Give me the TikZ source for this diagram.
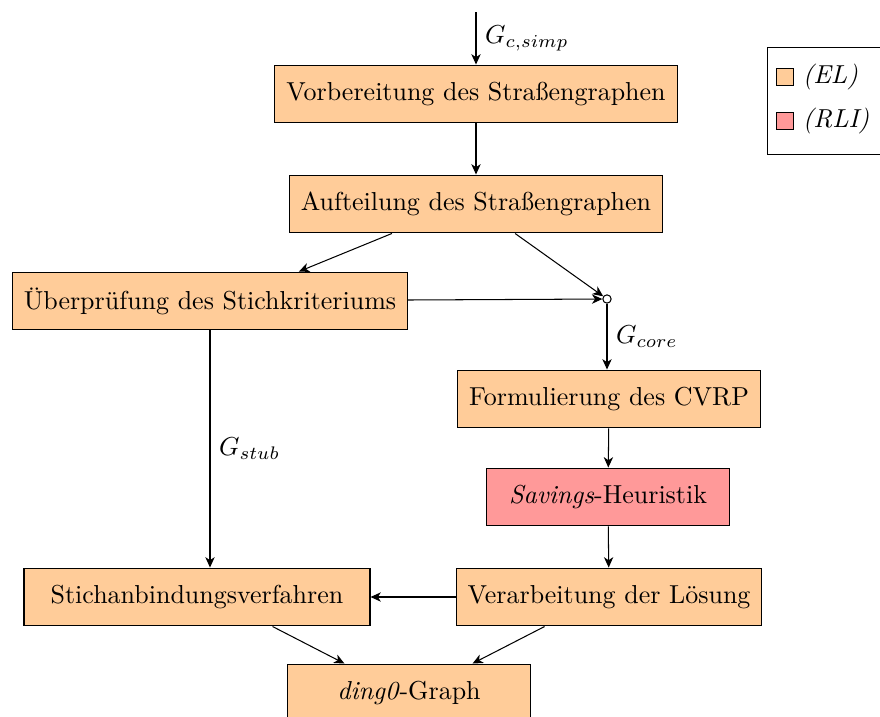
\documentclass[tikz,border=0pt]{standalone}
\usepackage{amsmath}
\usepackage{tikz}
\usetikzlibrary{arrows.meta,calc}

\begin{document}
\begin{tikzpicture}[x=0.385pt,y=-0.385pt, >={Stealth[length=4pt,width=3.6pt,inset=1.2pt]},
    stepbox/.style={draw, fill=orange!40, minimum height=22.3pt, inner xsep=4.4pt},
    rlibox/.style={stepbox, fill=red!40},
    joint/.style={circle, draw, fill=white, inner sep=0pt, minimum size=3.2pt},
    legsq/.style={draw, fill=#1, inner sep=0pt, minimum size=6.2pt}]
    % Fix the picture size
    \useasboundingbox (0,0) rectangle (880,717);

    % Draw the process steps
    \node[stepbox] (prep) at (476,94) {Vorbereitung des Straßengraphen};
    \node[stepbox] (split) at (476,204) {Aufteilung des Straßengraphen};
    \node[stepbox] (check) at (210,301) {Überprüfung des Stichkriteriums};
    \node[joint] (join) at (607,299) {};
    \node[stepbox] (cvrp) at (609,399) {Formulierung des CVRP};
    \node[rlibox, minimum width=93.6pt] (savings) at (608,497) {\textit{Savings}-Heuristik};
    \node[stepbox] (post) at (609,597) {Verarbeitung der Lösung};
    \node[stepbox, minimum width=133.2pt] (stub) at (197,597) {Stichanbindungsverfahren};
    \node[stepbox, minimum width=93.2pt] (graph) at (409,693) {\textit{ding0}-Graph};
    \coordinate (input) at (476,12);

    % Draw the arrows
    \draw[->] (input) -- node[right] {$G_{c,simp}$} (prep);
    \draw[->] (prep) -- (split);
    \draw[->] ($(split.south west)+(103,0)$) -- ($(check.north west)+(287,0)$);
    \draw[->] ($(split.south east)+(-148,0)$) -- (join);
    \draw[->] (check) -- (join);
    \draw[->] (join) -- node[right] {$G_{core}$} (join |- cvrp.north);
    \draw[->] (check.south) -- node[right] {$G_{stub}$} (check.south |- stub.north);
    \draw[->] (cvrp) -- (savings);
    \draw[->] (savings) -- (post);
    \draw[->] (post) -- (stub);
    \draw[->] ($(stub.south east)+(-98,0)$) -- ($(graph.north west)+(57,0)$);
    \draw[->] ($(post.south west)+(89,0)$) -- ($(graph.north east)+(-58,0)$);

    % Draw the legend
    \node[draw, minimum width=50pt, minimum height=41.2pt, anchor=north west] (legend) at (767,47) {};
    \node[legsq=orange!40] (elsq) at (785,77) {};
    \node[legsq=red!40] (rlisq) at (785,121) {};
    \node[right] at (elsq.east) {\textit{(EL)}};
    \node[right] at (rlisq.east) {\textit{(RLI)}};
\end{tikzpicture}
\end{document}
